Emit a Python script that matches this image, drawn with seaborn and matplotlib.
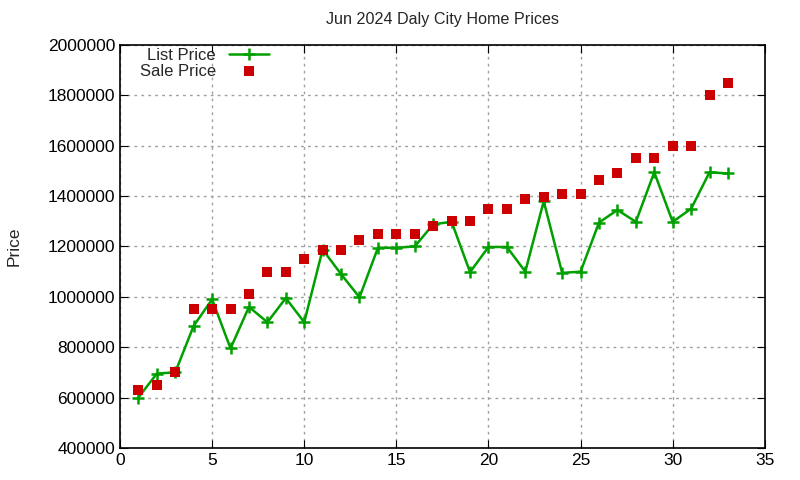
import matplotlib
matplotlib.use("Agg")
import matplotlib.pyplot as plt
import seaborn as sns
import pandas as pd

# Sale index within the month
sale_no = list(range(1, 34))

list_price = [
    600000, 695000, 700000, 885000, 990000, 795000, 960000, 899000, 995000, 899000,
    1188000, 1090000, 998000, 1195000, 1195000, 1200000, 1288000, 1298000, 1098000,
    1198000, 1198000, 1100000, 1380000, 1095000, 1100000, 1295000, 1345000, 1298000,
    1495000, 1298000, 1350000, 1495000, 1490000,
]

sale_price = [
    630000, 650000, 700000, 950000, 950000, 950000, 1012000, 1100000, 1100000, 1150000,
    1188000, 1188000, 1225000, 1250000, 1250000, 1250000, 1280000, 1300000, 1300000,
    1350000, 1350000, 1390000, 1395000, 1410000, 1410000, 1465000, 1490000, 1550000,
    1550000, 1600000, 1600000, 1800000, 1850000,
]

df = pd.DataFrame({"n": sale_no, "list": list_price, "sale": sale_price})

sns.set_style("ticks")
plt.rcParams["font.family"] = ["Liberation Sans", "DejaVu Sans"]

fig = plt.figure(figsize=(8, 4.8), dpi=100)
ax = fig.add_axes([0.15, 0.067, 0.806, 0.839])

green = "#00a000"
sns.lineplot(data=df, x="n", y="list", ax=ax, color=green, linewidth=1.8,
             marker="+", markersize=8.5, markeredgewidth=1.8,
             markeredgecolor=green, markerfacecolor=green, label="List Price")
sns.scatterplot(data=df, x="n", y="sale", ax=ax, color="#cc0000", marker="s",
                s=50, linewidth=0, label="Sale Price", zorder=3)

ax.set_xlim(0, 35)
ax.set_ylim(400000, 2000000)
ax.set_xticks(range(0, 36, 5))
ax.set_yticks(range(400000, 2000001, 200000))
ax.ticklabel_format(axis="y", style="plain", useOffset=False)
ax.grid(True, color="#a0a0a0", linestyle=(0, (2, 3)), linewidth=1)
ax.tick_params(direction="in", top=True, right=True, labelsize=12.5, length=6,
               colors="black", labelcolor="black")
for s in ax.spines.values():
    s.set_linewidth(1.2)
    s.set_color("black")

ax.set_title("Jun 2024 Daly City Home Prices", fontsize=11.6, pad=15)
ax.set_xlabel("")
ax.set_ylabel("Price", fontsize=12.5, labelpad=19)

leg = ax.legend(loc="upper left", markerfirst=False, frameon=False, fontsize=12,
                handlelength=2.4, borderaxespad=0.0, labelspacing=0.05,
                bbox_to_anchor=(0.02, 1.01))

fig.savefig("out.png", dpi=100)
